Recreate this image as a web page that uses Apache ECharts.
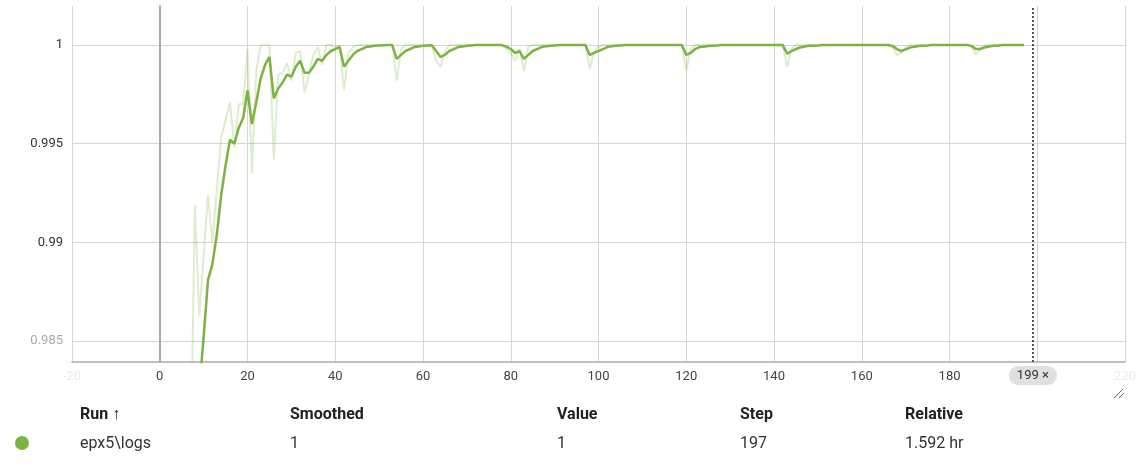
<!DOCTYPE html>
<html>
<head>
<meta charset="utf-8">
<title>epx5 accuracy</title>
<script src="https://cdn.jsdelivr.net/npm/echarts@6/dist/echarts.min.js"></script>
<style>
  body { margin: 0; background: #fff; font-family: Roboto, "Noto Sans", sans-serif; }
  #chart { position: absolute; left: 0; top: 0; width: 1139px; height: 470px; }
  .cell { position: absolute; font-size: 16px; line-height: 20px; color: #333; white-space: nowrap; }
  .head { font-weight: bold; color: #212121; }
  .dot { position: absolute; width: 14px; height: 14px; border-radius: 50%; background: #7cb342; }
</style>
</head>
<body>
<div id="chart"></div>
<div id="runs"></div>
<script>
// raw values, one per step (step = index)
const rawValues = [
  0.900, 0.935, 0.950, 0.958, 0.965, 0.970, 0.973, 0.978, 0.9919, 0.9863,
  0.9893, 0.9924, 0.9900, 0.9927, 0.9953, 0.9962, 0.9971, 0.9948, 0.9970, 0.9970,
  0.9998, 0.9935, 0.9987, 1.0, 1.0, 1.0, 0.9942, 0.9985, 0.9986, 0.9991,
  0.9982, 0.9996, 0.9997, 0.9976, 0.9985, 0.9995, 0.9999, 0.9990, 1.0, 1.0,
  0.9999, 1.0, 0.9977, 0.9996, 0.9999, 1.0, 1.0, 1.0, 1.0, 1.0,
  1.0, 1.0, 1.0, 1.0, 0.9982, 0.9998, 1.0, 1.0, 1.0, 1.0,
  1.0, 1.0, 1.0, 0.9992, 0.9989, 0.9997, 1.0, 1.0, 1.0, 1.0,
  1.0, 1.0, 1.0, 1.0, 1.0, 1.0, 1.0, 1.0, 1.0, 0.9998,
  0.9996, 0.9992, 0.9998, 0.9987, 0.9999, 1.0, 1.0, 1.0, 1.0, 1.0,
  1.0, 1.0, 1.0, 1.0, 1.0, 1.0, 1.0, 1.0, 0.9988, 0.9997,
  0.9999, 1.0, 1.0, 1.0, 1.0, 1.0, 1.0, 1.0, 1.0, 1.0,
  1.0, 1.0, 1.0, 1.0, 1.0, 1.0, 1.0, 1.0, 1.0, 1.0,
  0.9987, 0.9998, 1.0, 1.0, 1.0, 1.0, 1.0, 1.0, 1.0, 1.0,
  1.0, 1.0, 1.0, 1.0, 1.0, 1.0, 1.0, 1.0, 1.0, 1.0,
  1.0, 1.0, 1.0, 0.9989, 0.9998, 1.0, 1.0, 1.0, 1.0, 1.0,
  1.0, 1.0, 1.0, 1.0, 1.0, 1.0, 1.0, 1.0, 1.0, 1.0,
  1.0, 1.0, 1.0, 1.0, 1.0, 1.0, 1.0, 0.9999, 0.9995, 0.9996,
  0.9999, 1.0, 1.0, 1.0, 1.0, 1.0, 1.0, 1.0, 1.0, 1.0,
  1.0, 1.0, 1.0, 1.0, 1.0, 0.9999, 0.9995, 0.9998, 1.0, 1.0,
  1.0, 1.0, 1.0, 1.0, 1.0, 1.0, 1.0, 1.0
];
// smoothed values, one per step
const smoothedValues = [
  0.900, 0.914, 0.928, 0.940, 0.950, 0.958, 0.964, 0.972, 0.980, 0.9825,
  0.9852, 0.9881, 0.9889, 0.9904, 0.9924, 0.9939, 0.9952, 0.9950, 0.9958, 0.9963,
  0.9977, 0.9960, 0.9971, 0.9983, 0.9990, 0.9994, 0.9973, 0.9978, 0.9981, 0.9985,
  0.9984, 0.9989, 0.9992, 0.9986, 0.9986, 0.9989, 0.9993, 0.9992, 0.9995, 0.9997,
  0.9998, 0.9999, 0.9989, 0.9992, 0.9995, 0.9997, 0.9998, 0.9999, 0.99993, 0.99996,
  0.99998, 0.99999, 1.0, 1.0, 0.9993, 0.9995, 0.9997, 0.9998, 0.9999, 0.99993,
  0.99996, 0.99998, 0.99999, 0.9997, 0.9994, 0.9995, 0.9997, 0.9998, 0.9999, 0.99993,
  0.99996, 0.99998, 1.0, 1.0, 1.0, 1.0, 1.0, 1.0, 1.0, 0.99992,
  0.9998, 0.9996, 0.9997, 0.9993, 0.9995, 0.9997, 0.9998, 0.9999, 0.99994, 0.99996,
  0.99998, 1.0, 1.0, 1.0, 1.0, 1.0, 1.0, 1.0, 0.9995, 0.9996,
  0.9997, 0.9998, 0.9999, 0.99994, 0.99996, 0.99998, 1.0, 1.0, 1.0, 1.0,
  1.0, 1.0, 1.0, 1.0, 1.0, 1.0, 1.0, 1.0, 1.0, 1.0,
  0.9995, 0.9996, 0.9998, 0.9999, 0.99992, 0.99995, 0.99997, 0.99998, 1.0, 1.0,
  1.0, 1.0, 1.0, 1.0, 1.0, 1.0, 1.0, 1.0, 1.0, 1.0,
  1.0, 1.0, 1.0, 0.99956, 0.9997, 0.9998, 0.99988, 0.99993, 0.99996, 0.99997,
  0.99998, 1.0, 1.0, 1.0, 1.0, 1.0, 1.0, 1.0, 1.0, 1.0,
  1.0, 1.0, 1.0, 1.0, 1.0, 1.0, 1.0, 0.99996, 0.9998, 0.9997,
  0.99978, 0.99987, 0.99992, 0.99995, 0.99997, 0.99998, 1.0, 1.0, 1.0, 1.0,
  1.0, 1.0, 1.0, 1.0, 1.0, 0.99996, 0.9998, 0.9998, 0.99988, 0.99993,
  0.99996, 0.99997, 1.0, 1.0, 1.0, 1.0, 1.0, 1.0
];
// axis ticks
const yTicks = [0.985, 0.99, 0.995, 1];
const xTicks = [-20, 0, 20, 40, 60, 80, 100, 120, 140, 160, 180, 200, 220];
const pinnedStep = 199;

// table under the chart
const runHeaders = ["Run \u2191", "Smoothed", "Value", "Step", "Relative"];
const runRow = ["epx5\\logs", "1", "1", "197", "1.592 hr"];

const runColor = "#7cb342";

const toPoints = (values) => values.map((v, i) => [i, v]);

const option = {
  animation: false,
  textStyle: { fontFamily: "Roboto" },
  grid: { left: 72, right: 13, top: 6, bottom: 108 },
  xAxis: {
    type: "value",
    min: xTicks[0],
    max: xTicks[xTicks.length - 1],
    interval: 20,
    axisLine: { show: true, lineStyle: { color: "#aaa", width: 1.5 } },
    axisTick: { show: false },
    axisLabel: {
      fontSize: 13,
      margin: 8,
      color: "#444",
      // edge labels fade out, 200 is covered by the pinned step chip
      formatter: (v) => {
        const n = Number(v);
        if (n === pinnedStep + 1) return "";
        if (n === xTicks[0] || n === xTicks[xTicks.length - 1]) return "{faint|" + n + "}";
        return String(n);
      },
      rich: { faint: { color: "#ececec", fontSize: 13 } },
    },
    splitLine: { show: true, lineStyle: { color: "#d6d6d6", width: 1 } },
  },
  yAxis: {
    type: "value",
    min: 0.98394,
    max: 1.00198,
    splitNumber: 4,
    axisLine: { show: true, lineStyle: { color: "#aaa", width: 1.5 } },
    axisTick: { show: false },
    axisLabel: {
      fontSize: 13,
      margin: 9,
      color: (v) => (Number(v) < 0.986 ? "#aaa" : "#333"),
      formatter: (v) => {
        const t = yTicks.find((k) => Math.abs(k - v) < 1e-7);
        return t === undefined ? "" : String(t);
      },
    },
    splitLine: {
      show: true,
      showMinLine: false,
      showMaxLine: false,
      lineStyle: { color: "#d6d6d6", width: 1 },
    },
  },
  series: [
    {
      name: "raw",
      type: "line",
      data: toPoints(rawValues),
      symbol: "none",
      silent: true,
      lineStyle: { color: runColor, width: 2, opacity: 0.25 },
      z: 2,
    },
    {
      name: "smoothed",
      type: "line",
      data: toPoints(smoothedValues),
      symbol: "none",
      silent: true,
      lineStyle: { color: runColor, width: 2.5 },
      z: 3,
      markLine: {
        silent: true,
        symbol: "none",
        animation: false,
        data: [
          {
            xAxis: 0,
            lineStyle: { color: "#aaa", width: 2, type: "solid" },
            label: { show: false },
          },
          {
            xAxis: pinnedStep,
            lineStyle: { color: "#555", width: 2, type: "dotted" },
            label: {
              show: true,
              position: "start",
              distance: 4,
              formatter: pinnedStep + " \u00d7",
              color: "#333",
              fontSize: 13,
              backgroundColor: "#e0e0e0",
              borderRadius: 10,
              padding: [3, 8, 3, 8],
            },
          },
        ],
      },
    },
  ],
  graphic: [
    // resize handle in the corner
    { type: "line", shape: { x1: 1114, y1: 398, x2: 1123, y2: 389 }, style: { stroke: "#666", lineWidth: 1 } },
    { type: "line", shape: { x1: 1119, y1: 398, x2: 1124, y2: 393 }, style: { stroke: "#666", lineWidth: 1 } },
  ],
};

const chart = echarts.init(document.getElementById("chart"));
chart.setOption(option);

// run table
const colLeft = [80, 290, 557, 740, 905];
const box = document.getElementById("runs");
runHeaders.forEach((t, i) => {
  const d = document.createElement("div");
  d.className = "cell head";
  d.style.left = colLeft[i] + "px";
  d.style.top = "404px";
  d.textContent = t;
  box.appendChild(d);
});
runRow.forEach((t, i) => {
  const d = document.createElement("div");
  d.className = "cell";
  d.style.left = colLeft[i] + "px";
  d.style.top = "433px";
  d.textContent = t;
  box.appendChild(d);
});
const dot = document.createElement("div");
dot.className = "dot";
dot.style.left = "15px";
dot.style.top = "436px";
box.appendChild(dot);
</script>
</body>
</html>
